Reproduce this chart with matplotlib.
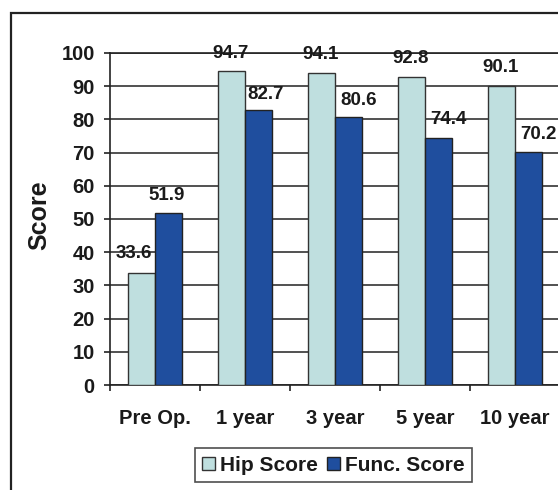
import matplotlib
matplotlib.use("Agg")
import matplotlib.pyplot as plt
from matplotlib.patches import Rectangle
import numpy as np

categories = ["Pre Op.", "1 year", "3 year", "5 year", "10 year"]
hip_score = [33.6, 94.7, 94.1, 92.8, 90.1]
func_score = [51.9, 82.7, 80.6, 74.4, 70.2]
series_names = ["Hip Score", "Func. Score"]
y_ticks = [0, 10, 20, 30, 40, 50, 60, 70, 80, 90, 100]

# label offsets in pixels (style only)
hip_dx = [-8, -1, -1, -1, -1]
hip_dy = [20, 17.5, 18, 18, 18]
func_dx = [-2, 7, 10, 10, 10]
func_dy = [17, 15.5, 17, 18, 17]

HIP_COLOR = "#BFDFDF"
FUNC_COLOR = "#1F4E9E"
TXT = "#1a1a1a"

plt.rcParams['font.family'] = ['Liberation Sans', 'DejaVu Sans']
plt.rcParams['font.weight'] = 'bold'

W, H = 558, 490
fig = plt.figure(figsize=(W / 100, H / 100), dpi=100)

# outer chart-area frame
fig.patches.append(Rectangle((11 / W, -0.05), 1.2, 1 - 13 / H + 0.05,
                             transform=fig.transFigure, fill=False,
                             edgecolor="#222222", lw=1.6, zorder=0))

ax = fig.add_axes([110 / W, 1 - 385 / H, 450 / W, (385 - 53) / H])
x = np.arange(len(categories))
bw = 0.295
b1 = ax.bar(x - bw / 2, hip_score, bw, color=HIP_COLOR, edgecolor="#333333",
            lw=1.0, label=series_names[0], zorder=3)
b2 = ax.bar(x + bw / 2, func_score, bw, color=FUNC_COLOR, edgecolor="#222222",
            lw=1.0, label=series_names[1], zorder=3)

k = 0.72  # px -> pt
for i, (r, v) in enumerate(zip(b1, hip_score)):
    ax.annotate(f"{v:.1f}", (r.get_x() + r.get_width() / 2, v),
                xytext=(hip_dx[i] * k, hip_dy[i] * k), textcoords="offset points",
                ha="center", va="center", fontsize=13.5, fontweight="bold",
                color=TXT, zorder=5)
for i, (r, v) in enumerate(zip(b2, func_score)):
    ax.annotate(f"{v:.1f}", (r.get_x() + r.get_width() / 2, v),
                xytext=(func_dx[i] * k, func_dy[i] * k), textcoords="offset points",
                ha="center", va="center", fontsize=13.5, fontweight="bold",
                color=TXT, zorder=5)

ax.set_xlim(-0.5, len(categories) - 0.5)
ax.set_ylim(0, 100)
ax.set_yticks(y_ticks)
ax.set_yticklabels([str(t) for t in y_ticks], fontsize=14.5, fontweight="bold", color=TXT)
ax.set_xticks(x)
ax.set_xticklabels(categories, fontsize=14.5, fontweight="bold", color=TXT)
ax.set_xticks(np.arange(len(categories) + 1) - 0.5, minor=True)
ax.tick_params(axis="x", which="major", length=0, pad=17)
ax.tick_params(axis="x", which="minor", length=4, width=1.2, color="#222222")
ax.tick_params(axis="y", which="major", length=4, width=1.2, color="#222222", pad=7)

ax.set_axisbelow(True)
ax.yaxis.grid(True, color="#222222", lw=1.1)
for s in ["left", "bottom", "top"]:
    ax.spines[s].set_color("#222222")
    ax.spines[s].set_linewidth(1.2)
ax.spines["right"].set_visible(False)

ax.set_ylabel("Score", fontsize=18, fontweight="bold", color=TXT)
ax.yaxis.set_label_coords(-(110 - 51) / 450, 0.51)

leg = fig.legend(handles=[b1, b2], labels=series_names, loc="center",
                 bbox_to_anchor=((194 + 473) / 2 / W, 1 - 465 / H),
                 ncol=2, frameon=True, fancybox=False, shadow=False,
                 prop={"size": 15, "weight": "bold"},
                 handlelength=0.6, handleheight=0.6, handletextpad=0.25,
                 columnspacing=0.45, borderpad=0.35, borderaxespad=0)
leg.get_frame().set_edgecolor("#222222")
leg.get_frame().set_linewidth(1.2)
for t in leg.get_texts():
    t.set_color(TXT)

fig.savefig("out.png", dpi=100)
